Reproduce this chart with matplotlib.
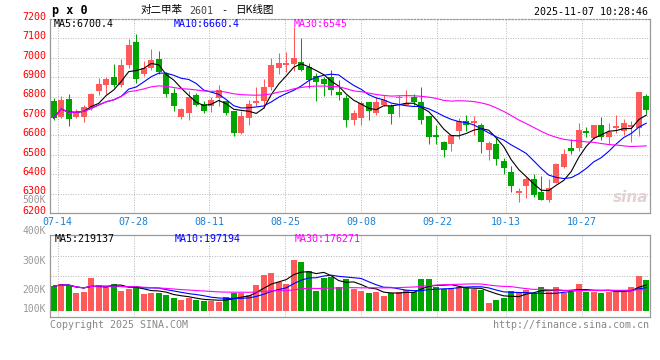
import numpy as np
import pandas as pd
import matplotlib
matplotlib.use("Agg")
import matplotlib.pyplot as plt
from matplotlib import transforms

# daily candles 2025-07-11 .. 2025-11-07 (index 0 = 07-11)
opens = [6775, 6695, 6787, 6697, 6693, 6744, 6830, 6861, 6902, 6861,
         6963, 7080, 6919, 6946, 6992, 6915, 6818, 6693, 6715, 6806,
         6761, 6750, 6792, 6775, 6727, 6613, 6690, 6767, 6775, 6852,
         6946, 6963, 6968, 6980, 6950, 6907, 6891, 6903, 6823, 6792,
         6681, 6690, 6772, 6715, 6758, 6750, 6792, 6758, 6796, 6772,
         6702, 6604, 6567, 6556, 6621, 6673, 6664, 6652, 6527, 6556,
         6467, 6413, 6302, 6339, 6377, 6310, 6266, 6353, 6438, 6536,
         6536, 6621, 6587, 6656, 6591, 6638, 6621, 6642, 6638, 6801]
highs = [6792, 6803, 6813, 6738, 6758, 6820, 6898, 6903, 6967, 6994,
         7095, 7122, 6984, 7044, 7037, 6929, 6844, 6740, 6830, 6816,
         6775, 6796, 6861, 6775, 6727, 6727, 6784, 6852, 6890, 6997,
         7023, 7032, 7158, 7100, 6972, 6921, 6903, 6938, 6886, 6806,
         6732, 6775, 6772, 6796, 6809, 6762, 6806, 6835, 6813, 6852,
         6702, 6656, 6573, 6604, 6690, 6703, 6698, 6664, 6570, 6587,
         6481, 6442, 6331, 6387, 6399, 6391, 6374, 6459, 6531, 6579,
         6664, 6642, 6656, 6693, 6664, 6707, 6685, 6676, 6823, 6813]
lows = [6678, 6690, 6650, 6691, 6671, 6733, 6809, 6813, 6852, 6852,
        6950, 6868, 6907, 6938, 6915, 6796, 6727, 6686, 6679, 6750,
        6715, 6720, 6750, 6703, 6596, 6608, 6656, 6750, 6741, 6835,
        6915, 6926, 6932, 6932, 6844, 6779, 6804, 6809, 6784, 6642,
        6652, 6652, 6681, 6703, 6750, 6659, 6693, 6755, 6755, 6659,
        6556, 6556, 6488, 6522, 6584, 6625, 6601, 6510, 6471, 6450,
        6399, 6309, 6257, 6279, 6283, 6266, 6259, 6353, 6433, 6502,
        6519, 6590, 6579, 6574, 6556, 6613, 6601, 6567, 6596, 6710]
closes = [6690, 6782, 6686, 6719, 6744, 6813, 6864, 6890, 6861, 6963,
          7066, 6891, 6946, 6987, 6929, 6813, 6751, 6738, 6799, 6755,
          6727, 6784, 6835, 6715, 6613, 6698, 6762, 6779, 6849, 6963,
          6972, 6972, 7001, 6938, 6886, 6874, 6866, 6835, 6809, 6681,
          6715, 6767, 6727, 6772, 6784, 6710, 6796, 6767, 6772, 6681,
          6594, 6590, 6527, 6604, 6673, 6656, 6676, 6567, 6561, 6476,
          6430, 6339, 6314, 6377, 6291, 6266, 6331, 6450, 6502, 6522,
          6630, 6613, 6656, 6591, 6618, 6647, 6664, 6656, 6823, 6732]
# volume in thousands (K)
volumes = [222, 229, 226, 199, 203, 248, 226, 219, 229, 205,
           212, 222, 195, 199, 199, 192, 181, 174, 183, 174,
           172, 172, 168, 185, 198, 197, 192, 226, 260, 268,
           236, 230, 311, 304, 273, 205, 251, 254, 220, 245,
           211, 205, 198, 203, 189, 198, 203, 209, 203, 246,
           246, 218, 212, 212, 218, 220, 212, 209, 165, 174,
           183, 205, 203, 209, 197, 218, 203, 218, 197, 203,
           229, 203, 203, 199, 203, 209, 203, 218, 256, 243]

tick_idx = [1, 11, 21, 31, 41, 51, 60, 70]
tick_lbl = ["07-14", "07-28", "08-11", "08-25", "09-08", "09-22", "10-13", "10-27"]
price_ticks = list(range(6200, 7300, 100))
vol_ticks = [200, 300, 400]
vol_tick_lbl = ["200K", "300K", "400K"]

ma_price_txt = ["MA5:6700.4", "MA10:6660.4", "MA30:6545"]
ma_vol_txt = ["MA5:219137", "MA10:197194", "MA30:176271"]

RED = "#ff5a5a"
GREEN = "#00a400"
GRID = "#b4b4b4"
FRAME = "#999999"
MONO = "DejaVu Sans Mono"
CJK = "Noto Sans CJK SC"

n = len(closes)
x = np.arange(n)
o = np.array(opens); c = np.array(closes)
h = np.array(highs); l = np.array(lows)
up = c >= o
cols = np.where(up, RED, GREEN)

cs = pd.Series(closes)
vs = pd.Series(volumes)
ma_cols = ["black", "#0000ff", "#ff00ff"]
wins = [5, 10, 30]

W, H = 660, 360
fig = plt.figure(figsize=(6.6, 3.6), dpi=100)
fig.patch.set_facecolor("white")

def fx(px):
    return px / W

def fy(py):
    return 1 - py / H

ax = fig.add_axes([fx(50), fy(213), 600 / W, 194 / H])
axv = fig.add_axes([fx(50), fy(317.3), 600 / W, 82.8 / H])

grid_x = -0.5 + np.array(tick_idx) * n / (n - 1)

# ---- price panel
ax.vlines(x, l, h, colors=cols, lw=0.75)
body = np.maximum(np.abs(c - o), 3)
ax.bar(x, body, bottom=np.minimum(o, c), width=0.8, color=cols, linewidth=0)
for w, col in zip(wins, ma_cols):
    ax.plot(x, cs.rolling(w, min_periods=1).mean(), color=col, lw=0.8)
ax.set_xlim(-0.5, n - 0.5)
ax.set_ylim(6200, 7200)
ax.set_xticks(grid_x)
ax.set_yticks(price_ticks)
ax.tick_params(length=0, labelleft=False, labelbottom=False)
ax.grid(True, ls=(0, (1, 1.6)), color=GRID, lw=0.7)
ax.set_axisbelow(True)

lift = transforms.ScaledTranslation(0, 2.2 / 100, fig.dpi_scale_trans)
for p in price_ticks:
    ax.text(-0.0067, p, str(p), transform=ax.get_yaxis_transform() + lift,
            ha="right", va="center", color="#ff0000", family=MONO, size=7.2)
for gx, t in zip(grid_x, tick_lbl):
    ax.text(gx, -0.044, t, transform=ax.get_xaxis_transform(), ha="center",
            va="center", color="#1a80d0", family=MONO, size=7.2)

# ---- volume panel
vol_base = 138
axv.bar(x, np.array(volumes) - vol_base, bottom=vol_base, width=0.8,
        color=cols, linewidth=0)
for w, col in zip(wins, ma_cols):
    axv.plot(x, vs.rolling(w, min_periods=1).mean(), color=col, lw=0.8)
axv.set_xlim(-0.5, n - 0.5)
axv.set_ylim(115.5, 398)
axv.set_xticks(grid_x)
axv.set_yticks([])
axv.tick_params(length=0, labelleft=False, labelbottom=False)
axv.grid(True, axis="x", ls=(0, (1, 1.6)), color=GRID, lw=0.7)
for gv in [257, 326]:
    axv.axhline(gv, ls=(0, (1, 1.6)), color=GRID, lw=0.7, zorder=0)
axv.set_axisbelow(True)

vlab = [(vol_base, "100K", 2.2)] + [(v, t, 2.6) for v, t in zip(vol_ticks, vol_tick_lbl)] \
    + [(500, "500K", 4.8)]
for v, t, dy in vlab:
    tr = axv.get_yaxis_transform() + transforms.ScaledTranslation(0, dy / 100, fig.dpi_scale_trans)
    axv.text(-0.0067, v, t, transform=tr, ha="right", va="center",
             color="#999999", family=MONO, size=7.0, clip_on=False)

for a in (ax, axv):
    for s in a.spines.values():
        s.set_color(FRAME)
        s.set_linewidth(0.9)
ax.spines["top"].set_linestyle((0, (1, 1.6)))

# ---- header / legends
fig.text(fx(52), fy(10.5), "p x 0", family=MONO, weight="bold", size=8.5, va="center")
fig.text(fx(141), fy(10.5), "对二甲苯", family=CJK, size=7.6, va="center")
fig.text(fx(189), fy(11), "2601", family=MONO, size=7.2, va="center", color="#444444")
fig.text(fx(221), fy(10.5), "-", family=MONO, size=7.2, va="center")
fig.text(fx(235), fy(10.5), "日K线图", family=CJK, size=7.6, va="center")
fig.text(fx(648), fy(12), "2025-11-07 10:28:46", family=MONO, size=7.2,
         ha="right", va="center")

for px, t, col in zip([54, 174, 294], ma_price_txt, ma_cols):
    fig.text(fx(px), fy(24), t, family=MONO, size=7.2, va="center", color=col)
for px, t, col in zip([54.5, 174.5, 295], ma_vol_txt, ma_cols):
    fig.text(fx(px), fy(238.5), t, family=MONO, size=7.2, va="center", color=col)

fig.text(fx(50), fy(324.5), "Copyright 2025 SINA.COM", family=MONO, size=7.2,
         va="center", color="#888888")
fig.text(fx(649), fy(324.5), "http://finance.sina.com.cn", family=MONO, size=7.2,
         ha="right", va="center", color="#888888")
fig.text(fx(648), fy(197), "sina", family="DejaVu Sans", style="italic",
         weight="bold", size=11, ha="right", va="center", color="#e2d2d2")

fig.savefig("out.png", dpi=100)
